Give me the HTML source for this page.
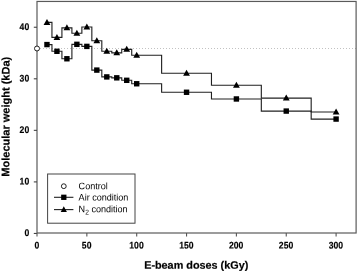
<!DOCTYPE html><html><head><meta charset="utf-8"><style>html,body{margin:0;padding:0;background:#fff;overflow:hidden}svg{display:block;will-change:transform}</style></head><body><svg width="358" height="273" viewBox="0 0 358 273" font-family="Liberation Sans, Arial, sans-serif">
<rect width="358" height="273" fill="#fff"/>
<line x1="37.0" x2="356" y1="48.50" y2="48.50" stroke="#c2c2c2" stroke-width="1" stroke-dasharray="1 2"/>
<rect x="37.0" y="1.45" width="319.10" height="231.55" fill="none" stroke="#5a5a5a" stroke-width="1.2"/>
<line x1="33.8" x2="37.0" y1="233.45" y2="233.45" stroke="#444" stroke-width="1.1"/>
<text transform="translate(29.20,236.10) scale(0.9,1) rotate(0.03)" font-size="9.6" text-anchor="end" font-weight="bold" stroke="#000" stroke-width="0.15" fill="#000">0</text>
<line x1="33.8" x2="37.0" y1="181.90" y2="181.90" stroke="#444" stroke-width="1.1"/>
<text transform="translate(29.20,184.55) scale(0.9,1) rotate(0.03)" font-size="9.6" text-anchor="end" font-weight="bold" stroke="#000" stroke-width="0.15" fill="#000">10</text>
<line x1="33.8" x2="37.0" y1="130.35" y2="130.35" stroke="#444" stroke-width="1.1"/>
<text transform="translate(29.20,133.00) scale(0.9,1) rotate(0.03)" font-size="9.6" text-anchor="end" font-weight="bold" stroke="#000" stroke-width="0.15" fill="#000">20</text>
<line x1="33.8" x2="37.0" y1="78.80" y2="78.80" stroke="#444" stroke-width="1.1"/>
<text transform="translate(29.20,81.45) scale(0.9,1) rotate(0.03)" font-size="9.6" text-anchor="end" font-weight="bold" stroke="#000" stroke-width="0.15" fill="#000">30</text>
<line x1="33.8" x2="37.0" y1="27.25" y2="27.25" stroke="#444" stroke-width="1.1"/>
<text transform="translate(29.20,29.90) scale(0.9,1) rotate(0.03)" font-size="9.6" text-anchor="end" font-weight="bold" stroke="#000" stroke-width="0.15" fill="#000">40</text>
<line y1="233.0" y2="236.6" x1="37.00" x2="37.00" stroke="#555" stroke-width="1.1"/>
<text transform="translate(36.80,248.55) scale(0.9,1) rotate(0.03)" font-size="9.6" text-anchor="middle" font-weight="bold" stroke="#000" stroke-width="0.15" fill="#000">0</text>
<line y1="233.0" y2="236.6" x1="86.85" x2="86.85" stroke="#555" stroke-width="1.1"/>
<text transform="translate(86.65,248.55) scale(0.9,1) rotate(0.03)" font-size="9.6" text-anchor="middle" font-weight="bold" stroke="#000" stroke-width="0.15" fill="#000">50</text>
<line y1="233.0" y2="236.6" x1="136.70" x2="136.70" stroke="#555" stroke-width="1.1"/>
<text transform="translate(136.50,248.55) scale(0.9,1) rotate(0.03)" font-size="9.6" text-anchor="middle" font-weight="bold" stroke="#000" stroke-width="0.15" fill="#000">100</text>
<line y1="233.0" y2="236.6" x1="186.55" x2="186.55" stroke="#555" stroke-width="1.1"/>
<text transform="translate(186.35,248.55) scale(0.9,1) rotate(0.03)" font-size="9.6" text-anchor="middle" font-weight="bold" stroke="#000" stroke-width="0.15" fill="#000">150</text>
<line y1="233.0" y2="236.6" x1="236.40" x2="236.40" stroke="#555" stroke-width="1.1"/>
<text transform="translate(236.20,248.55) scale(0.9,1) rotate(0.03)" font-size="9.6" text-anchor="middle" font-weight="bold" stroke="#000" stroke-width="0.15" fill="#000">200</text>
<line y1="233.0" y2="236.6" x1="286.25" x2="286.25" stroke="#555" stroke-width="1.1"/>
<text transform="translate(286.05,248.55) scale(0.9,1) rotate(0.03)" font-size="9.6" text-anchor="middle" font-weight="bold" stroke="#000" stroke-width="0.15" fill="#000">250</text>
<line y1="233.0" y2="236.6" x1="336.10" x2="336.10" stroke="#555" stroke-width="1.1"/>
<text transform="translate(335.90,248.55) scale(0.9,1) rotate(0.03)" font-size="9.6" text-anchor="middle" font-weight="bold" stroke="#000" stroke-width="0.15" fill="#000">300</text>
<path d="M46.97,22.42 L51.95,22.42 L51.95,37.37 L56.94,37.37 L61.92,37.37 L61.92,27.83 L66.91,27.83 L71.90,27.83 L71.90,33.24 L76.88,33.24 L81.87,33.24 L81.87,27.06 L86.85,27.06 L91.84,27.06 L91.84,40.72 L96.82,40.72 L101.81,40.72 L101.81,51.29 L106.79,51.29 L111.78,51.29 L111.78,52.83 L116.76,52.83 L121.75,52.83 L121.75,49.33 L126.73,49.33 L131.72,49.33 L131.72,55.26 L136.70,55.26 L161.62,55.26 L161.62,73.19 L186.55,73.19 L211.47,73.19 L211.47,85.31 L236.40,85.31 L261.32,85.31 L261.32,98.09 L286.25,98.09 L311.18,98.09 L311.18,111.96 L336.10,111.96" fill="none" stroke="#202020" stroke-width="1.12"/>
<path d="M46.97,44.58 L51.95,44.58 L51.95,51.29 L56.94,51.29 L61.92,51.29 L61.92,58.76 L66.91,58.76 L71.90,58.76 L71.90,44.33 L76.88,44.33 L81.87,44.33 L81.87,46.39 L86.85,46.39 L91.84,46.39 L91.84,70.10 L96.82,70.10 L101.81,70.10 L101.81,76.91 L106.79,76.91 L111.78,76.91 L111.78,77.83 L116.76,77.83 L121.75,77.83 L121.75,80.31 L126.73,80.31 L131.72,80.31 L131.72,83.76 L136.70,83.76 L161.62,83.76 L161.62,92.27 L186.55,92.27 L211.47,92.27 L211.47,98.97 L236.40,98.97 L261.32,98.97 L261.32,111.08 L286.25,111.08 L311.18,111.08 L311.18,119.07 L336.10,119.07" fill="none" stroke="#202020" stroke-width="1.12"/>
<rect x="44.27" y="41.88" width="5.4" height="5.4" fill="#000"/>
<rect x="54.24" y="48.59" width="5.4" height="5.4" fill="#000"/>
<rect x="64.21" y="56.06" width="5.4" height="5.4" fill="#000"/>
<rect x="74.18" y="41.63" width="5.4" height="5.4" fill="#000"/>
<rect x="84.15" y="43.69" width="5.4" height="5.4" fill="#000"/>
<rect x="94.12" y="67.40" width="5.4" height="5.4" fill="#000"/>
<rect x="104.09" y="74.21" width="5.4" height="5.4" fill="#000"/>
<rect x="114.06" y="75.13" width="5.4" height="5.4" fill="#000"/>
<rect x="124.03" y="77.61" width="5.4" height="5.4" fill="#000"/>
<rect x="134.00" y="81.06" width="5.4" height="5.4" fill="#000"/>
<rect x="183.85" y="89.57" width="5.4" height="5.4" fill="#000"/>
<rect x="233.70" y="96.27" width="5.4" height="5.4" fill="#000"/>
<rect x="283.55" y="108.38" width="5.4" height="5.4" fill="#000"/>
<rect x="333.40" y="116.37" width="5.4" height="5.4" fill="#000"/>
<polygon points="46.97,18.94 43.57,24.94 50.37,24.94" fill="#000"/>
<polygon points="56.94,33.89 53.54,39.89 60.34,39.89" fill="#000"/>
<polygon points="66.91,24.35 63.51,30.35 70.31,30.35" fill="#000"/>
<polygon points="76.88,29.76 73.48,35.76 80.28,35.76" fill="#000"/>
<polygon points="86.85,23.58 83.45,29.58 90.25,29.58" fill="#000"/>
<polygon points="96.82,37.24 93.42,43.24 100.22,43.24" fill="#000"/>
<polygon points="106.79,47.81 103.39,53.81 110.19,53.81" fill="#000"/>
<polygon points="116.76,49.35 113.36,55.35 120.16,55.35" fill="#000"/>
<polygon points="126.73,45.85 123.33,51.85 130.13,51.85" fill="#000"/>
<polygon points="136.70,51.78 133.30,57.78 140.10,57.78" fill="#000"/>
<polygon points="186.55,69.71 183.15,75.71 189.95,75.71" fill="#000"/>
<polygon points="236.40,81.83 233.00,87.83 239.80,87.83" fill="#000"/>
<polygon points="286.25,94.61 282.85,100.61 289.65,100.61" fill="#000"/>
<polygon points="336.10,108.48 332.70,114.48 339.50,114.48" fill="#000"/>
<circle cx="37.0" cy="48.50" r="2.5" fill="#fff" stroke="#222" stroke-width="1"/>
<rect x="47.6" y="174" width="87.4" height="49.2" fill="#fff" stroke="#444" stroke-width="1"/>
<circle cx="63.8" cy="186.2" r="2.4" fill="#fff" stroke="#222" stroke-width="1"/>
<line x1="54" x2="73.4" y1="197.3" y2="197.3" stroke="#202020" stroke-width="1.1"/>
<rect x="61.15" y="194.65" width="5.3" height="5.3" fill="#000"/>
<line x1="54" x2="73.4" y1="209.6" y2="209.6" stroke="#202020" stroke-width="1.1"/>
<polygon points="63.80,206.35 60.70,211.95 66.90,211.95" fill="#000"/>
<text transform="translate(78.60,189.20) scale(0.955,1) rotate(0.03)" font-size="9.5" text-anchor="start" fill="#000">Control</text>
<text transform="translate(78.60,200.50) scale(0.955,1) rotate(0.03)" font-size="9.5" text-anchor="start" fill="#000">Air condition</text>
<text transform="translate(78.60,212.30) scale(0.955,1) rotate(0.03)" font-size="9.5" text-anchor="start" fill="#000">N<tspan font-size="7" dy="2.2">2</tspan><tspan dy="-2.2"> condition</tspan></text>
<text transform="translate(196.20,268.80) scale(1.0,1) rotate(0.03)" font-size="10.83" text-anchor="middle" font-weight="bold" stroke="#000" stroke-width="0.2" fill="#000">E-beam doses (kGy)</text>
<text transform="translate(9.40,116.75) scale(1.0,1) rotate(0.03) rotate(-90)" font-size="11.0" text-anchor="middle" font-weight="bold" stroke="#000" stroke-width="0.2" fill="#000">Molecular weight (kDa)</text>
</svg></body></html>
